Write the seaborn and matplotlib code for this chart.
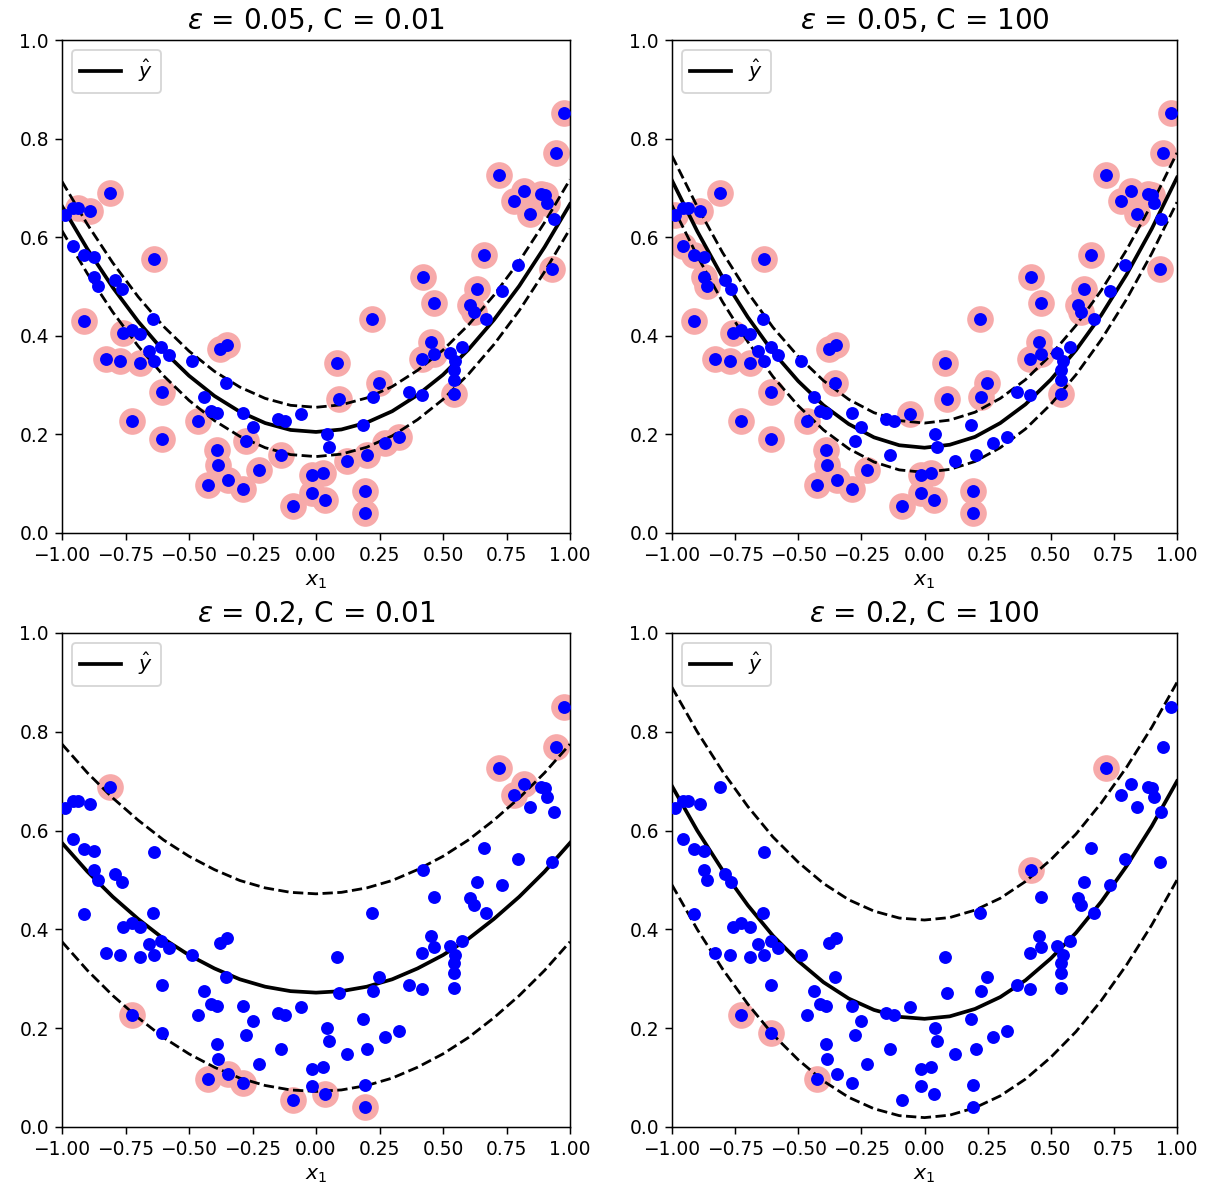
import numpy as np
import matplotlib
matplotlib.use("Agg")
import matplotlib.pyplot as plt
import seaborn as sns

# ---- data points ----
x_pts = [-0.811, -0.989, -0.956, -0.937, -0.890, -0.956, -0.913, -0.873, -0.637, -0.873,
         -0.860, -0.791, -0.765, -0.913, -0.640, -0.758, -0.725, -0.692, -0.828, -0.771,
         -0.692, -0.659, -0.637, -0.609, -0.580, -0.488, -0.379, -0.349, -0.353, -0.607,
         -0.439, -0.415, -0.389, -0.287, -0.464, -0.250, -0.725, -0.607, -0.274, -0.391,
         -0.385, -0.426, -0.345, -0.287, -0.226, -0.151, -0.121, -0.059, -0.138, -0.091,
         -0.015, -0.015,
         0.420, 0.632, 0.733, 0.463, 0.608, 0.621, 0.671, 0.219, 0.452, 0.417,
         0.463, 0.526, 0.575, 0.549, 0.542, 0.542, 0.542, 0.083, 0.249, 0.225,
         0.091, 0.368, 0.417, 0.186, 0.043, 0.051, 0.271, 0.328, 0.122, 0.202,
         0.027, 0.036, 0.192, 0.192,
         0.978, 0.945, 0.720, 0.819, 0.885, 0.901, 0.909, 0.780, 0.843, 0.938,
         0.661, 0.796, 0.931]
y_pts = [0.689, 0.645, 0.659, 0.659, 0.653, 0.583, 0.563, 0.559, 0.556, 0.520,
         0.501, 0.513, 0.495, 0.431, 0.434, 0.405, 0.412, 0.404, 0.353, 0.348,
         0.344, 0.370, 0.348, 0.377, 0.362, 0.348, 0.373, 0.382, 0.304, 0.287,
         0.276, 0.248, 0.244, 0.244, 0.227, 0.215, 0.227, 0.191, 0.186, 0.168,
         0.138, 0.097, 0.107, 0.090, 0.127, 0.231, 0.227, 0.242, 0.158, 0.055,
         0.117, 0.082,
         0.520, 0.495, 0.490, 0.466, 0.463, 0.449, 0.434, 0.434, 0.387, 0.353,
         0.364, 0.366, 0.377, 0.348, 0.331, 0.311, 0.281, 0.344, 0.304, 0.276,
         0.272, 0.287, 0.279, 0.219, 0.200, 0.175, 0.183, 0.194, 0.147, 0.158,
         0.122, 0.066, 0.086, 0.041,
         0.851, 0.770, 0.726, 0.694, 0.688, 0.686, 0.669, 0.673, 0.648, 0.637,
         0.564, 0.543, 0.536]

x_curve = [-1.0, -0.9, -0.8, -0.7, -0.6, -0.5, -0.4, -0.3, -0.2, -0.1, 0.0,
           0.1, 0.2, 0.3, 0.4, 0.5, 0.6, 0.7, 0.8, 0.9, 1.0]
yhat_eps005_c001 = [0.663, 0.576, 0.498, 0.429, 0.369, 0.319, 0.278, 0.246, 0.223, 0.209, 0.205,
                    0.210, 0.224, 0.247, 0.280, 0.321, 0.372, 0.432, 0.501, 0.580, 0.667]
yhat_eps005_c100 = [0.715, 0.612, 0.519, 0.438, 0.367, 0.308, 0.259, 0.221, 0.194, 0.178, 0.173,
                    0.179, 0.195, 0.223, 0.261, 0.311, 0.371, 0.442, 0.524, 0.617, 0.721]
yhat_eps02_c001 = [0.575, 0.517, 0.466, 0.421, 0.381, 0.348, 0.321, 0.299, 0.284, 0.275, 0.272,
                   0.275, 0.284, 0.299, 0.321, 0.348, 0.381, 0.421, 0.466, 0.517, 0.575]
yhat_eps02_c100 = [0.690, 0.600, 0.520, 0.449, 0.387, 0.336, 0.293, 0.260, 0.237, 0.223, 0.219,
                   0.224, 0.239, 0.263, 0.297, 0.341, 0.393, 0.456, 0.528, 0.609, 0.700]

epsilons = [0.05, 0.05, 0.2, 0.2]
c_values = ["0.01", "100", "0.01", "100"]
predictions = [yhat_eps005_c001, yhat_eps005_c100, yhat_eps02_c001, yhat_eps02_c100]

x_ticks = [-1.0, -0.75, -0.5, -0.25, 0.0, 0.25, 0.5, 0.75, 1.0]
y_ticks = [0.0, 0.2, 0.4, 0.6, 0.8, 1.0]

W, H = 1206, 1194
DPI = 134
fig = plt.figure(figsize=(W / DPI, H / DPI), dpi=DPI)

# axes boxes in pixels: (left, top, right, bottom)
boxes = [(62, 40, 570, 533), (672, 40, 1177, 533),
         (62, 633, 570, 1127), (672, 633, 1177, 1127)]

xp = np.array(x_pts)
yp = np.array(y_pts)
xc = np.array(x_curve)

for box, eps, cval, yhat in zip(boxes, epsilons, c_values, predictions):
    l, t, r, b = box
    ax = fig.add_axes([l / W, 1 - b / H, (r - l) / W, (b - t) / H])
    yh = np.array(yhat)

    # support vectors: points on or outside the epsilon tube
    resid = np.abs(yp - np.interp(xp, xc, yh))
    sv = resid >= eps

    sns.scatterplot(x=xp[sv], y=yp[sv], ax=ax, s=205, color="#F7AAAA",
                    linewidth=0, legend=False, zorder=1)
    sns.lineplot(x=xc, y=yh, ax=ax, color="k", linewidth=2, label=r"$\hat{y}$", zorder=2)
    sns.lineplot(x=xc, y=yh + eps, ax=ax, color="k", linewidth=1.5, linestyle="--", zorder=2)
    sns.lineplot(x=xc, y=yh - eps, ax=ax, color="k", linewidth=1.5, linestyle="--", zorder=2)
    sns.scatterplot(x=xp, y=yp, ax=ax, s=48, color="#0000FF", linewidth=0,
                    legend=False, zorder=3)

    ax.set_xlim(-1, 1)
    ax.set_ylim(0, 1)
    ax.set_xticks(x_ticks)
    ax.set_yticks(y_ticks)
    ax.set_xticklabels([f"{v:.2f}".replace("-", "\u2212") for v in x_ticks], fontsize=10)
    ax.set_yticklabels([f"{v:.1f}" for v in y_ticks], fontsize=10)
    ax.set_xlabel(r"$x_1$", fontsize=11)
    ax.set_ylabel("")
    ax.set_title(r"$\varepsilon$ = " + f"{eps}, C = {cval}", fontsize=15)
    ax.legend(loc="upper left", fontsize=11)

fig.savefig("out.png", dpi=DPI)
